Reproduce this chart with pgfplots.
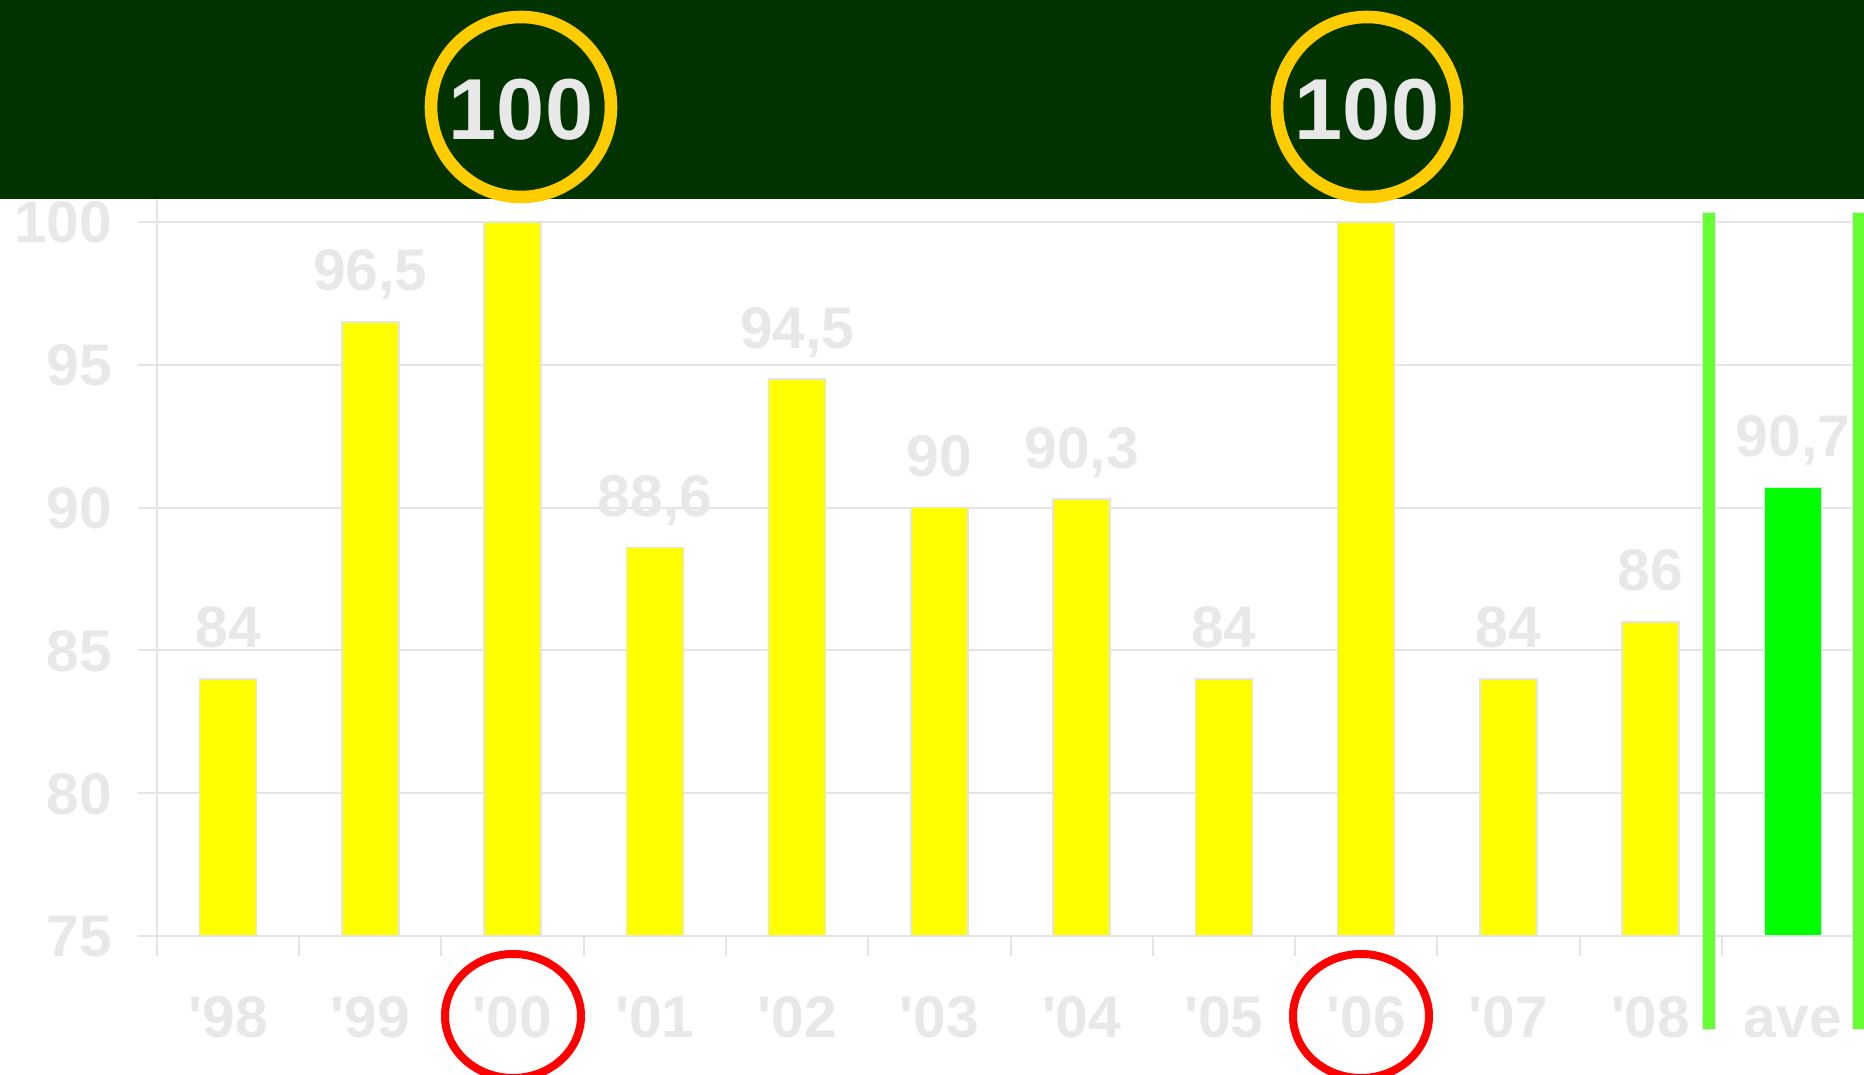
\documentclass[border=0pt]{standalone}
\usepackage{pgfplots}
\pgfplotsset{compat=1.18}
\usepackage{fontspec}
\setmainfont{Liberation Sans}
\definecolor{banner}{RGB}{0,51,0}
\definecolor{ring}{RGB}{255,204,0}
\definecolor{lbl}{RGB}{232,232,232}
\definecolor{gridc}{RGB}{228,228,228}
\definecolor{barY}{RGB}{255,255,0}
\definecolor{barG}{RGB}{0,255,0}
\definecolor{sep}{RGB}{102,255,51}
\newcommand{\labfont}{\bfseries\fontsize{29.35}{30}\selectfont}
\begin{document}
\begin{tikzpicture}
\begin{axis}[
  at={(0,0)}, anchor=south west,
  scale only axis, width=853.5pt, height=368.5pt,
  xmin=-0.5, xmax=11.5, ymin=75, ymax=100.805,
  axis x line*=bottom, axis y line*=left,
  axis line style={draw=gridc, line width=1.2pt},
  ytick={75,80,...,100},
  ymajorgrids, grid style={draw=gridc, line width=1pt},
  tick align=outside,
  major tick length=9.5pt,
  minor tick length=10pt,
  ytick style={draw=gridc, line width=1pt},
  xtick={0,...,11},
  xticklabels={\textquotesingle98,\textquotesingle99,\textquotesingle00,\textquotesingle01,\textquotesingle02,\textquotesingle03,\textquotesingle04,\textquotesingle05,\textquotesingle06,\textquotesingle07,\textquotesingle08,ave},
  major x tick style={draw=none},
  minor xtick={-0.5,0.5,...,10.5},
  minor x tick style={draw=gridc, line width=1pt},
  /pgf/number format/assume math mode=true,
  ticklabel style={font=\labfont, color=lbl},
  yticklabel style={anchor=base east, inner sep=0pt, xshift=-12.8pt, yshift=-10.5pt},
  xticklabel style={anchor=base, inner sep=0pt, yshift=-41.5pt},
  ybar, bar width=28.5pt, bar shift=0pt,
  every node near coord/.append style={font=\labfont, color=lbl, anchor=base, inner sep=0pt, yshift=15.5pt},
  /pgf/number format/.cd, use comma, precision=1,
]
% bars whose value labels are visible
\addplot[fill=barY, draw=gridc, line width=0.8pt, bar shift=0pt, nodes near coords] coordinates {
  (0,84) (1,96.5) (3,88.6) (4,94.5) (5,90) (6,90.3) (7,84) (9,84) (10,86)};
% the two 100 bars (their values are shown in the banner)
\addplot[fill=barY, draw=gridc, line width=0.8pt, bar shift=0pt] coordinates {(2,100) (8,100)};
\addplot[fill=barG, draw=gridc, line width=0.8pt, bar shift=0pt, nodes near coords] coordinates {(11,90.7)};
\end{axis}
\begin{axis}[
  at={(0,0)}, anchor=south west,
  scale only axis, width=853.5pt, height=368.5pt,
  xmin=-0.5, xmax=11.5, ymin=75, ymax=100.805,
  hide axis, clip=false,
]
\addplot[draw=gridc, line width=7.2pt] coordinates {(10.41,71.70) (10.41,100.35)};
\addplot[draw=sep, line width=6pt] coordinates {(10.41,71.74) (10.41,100.315)};
\addplot[draw=gridc, line width=7.2pt] coordinates {(11.465,71.70) (11.465,100.35)};
\addplot[draw=sep, line width=6pt] coordinates {(11.465,71.74) (11.465,100.315)};
\end{axis}
\begin{scope}[shift={(-78.5pt,468pt)}, x=0.5pt, y=-0.5pt]
\fill[banner] (0,0) rectangle (1864,198.7);
\draw[ring, line width=6.3pt] (521,107) circle [radius=45pt];
\draw[ring, line width=6.3pt] (1367,107) circle [radius=45pt];
\node[font=\bfseries\fontsize{43.3}{45}\selectfont, color=lbl, inner sep=0pt] at (521,110) {100};
\node[font=\bfseries\fontsize{43.3}{45}\selectfont, color=lbl, inner sep=0pt] at (1367,110) {100};
\draw[red, line width=4pt] (513,1016) ellipse [x radius=34pt, y radius=31pt];
\draw[red, line width=4pt] (1361,1016) ellipse [x radius=34pt, y radius=31pt];
\end{scope}
\pgfresetboundingbox
\path[use as bounding box] (-78.5pt,-69.5pt) rectangle (853.5pt,468pt);
\end{tikzpicture}
\end{document}
